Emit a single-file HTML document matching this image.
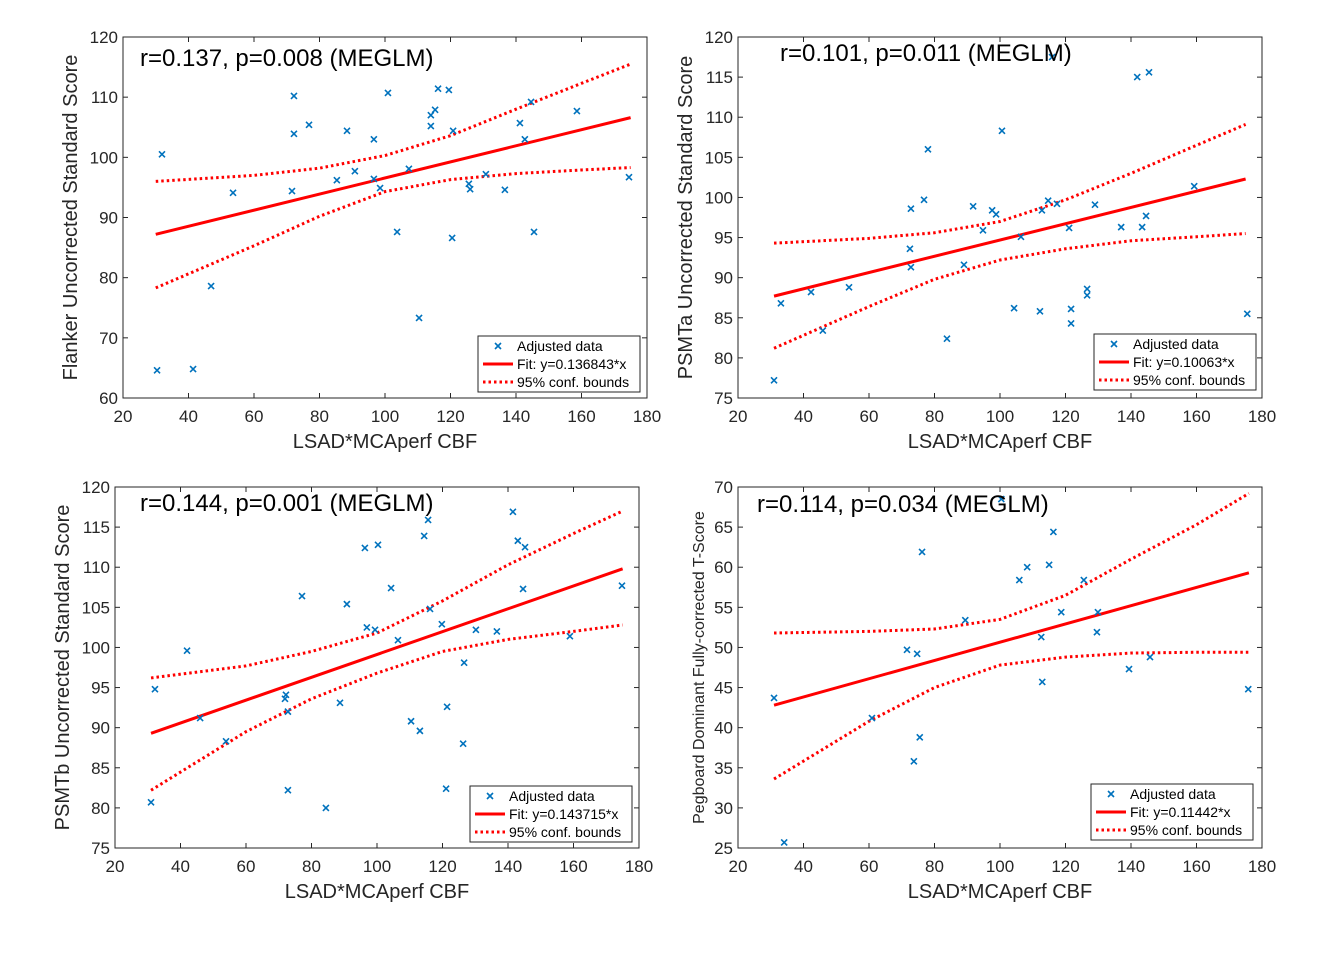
<!DOCTYPE html>
<html><head><meta charset="utf-8"><style>
body{margin:0;background:#fff;}
svg{display:block;font-family:"Liberation Sans",Arial,sans-serif;}
</style></head><body>
<svg id="fig" width="1329" height="956" viewBox="0 0 1329 956" xmlns="http://www.w3.org/2000/svg"></svg>
<script>
// ---- Panel 1: Flanker ----
const p1X=[30.4,31.9,41.4,46.9,53.6,71.6,72.2,72.2,76.8,85.3,88.4,90.8,96.6,96.6,98.5,100.9,103.7,107.3,110.4,114,114,115.3,116.2,119.5,120.8,120.5,125.6,126,130.8,136.6,141.2,142.7,144.6,145.5,158.6,174.5];
const p1Y=[64.6,100.5,64.8,78.6,94.1,94.4,110.2,103.9,105.4,96.2,104.4,97.7,103,96.4,94.9,110.7,87.6,98.1,73.3,107,105.2,107.9,111.4,111.2,104.4,86.6,95.6,94.7,97.2,94.6,105.7,103,109.2,87.6,107.7,96.7];
const p1Fit=[30,87.2,175,106.6];
const p1BX=[30,60,80,100,120,140,160,175];
const p1Up=[96,97,98.2,100.3,103.6,108,112.3,115.5];
const p1Lo=[78.3,85.3,90.2,94.3,96.3,97.3,97.9,98.3];
// ---- Panel 2: PSMTa ----
const p2X=[31,33.1,42.3,45.9,53.9,72.8,72.5,72.8,76.8,78,83.8,89,91.8,94.8,97.6,98.8,100.6,104.3,106.4,112.2,112.8,114.7,117.4,115.9,121.1,121.7,121.7,126.6,126.6,129,137,141.9,143.4,144.6,145.5,159.3,175.5];
const p2Y=[77.2,86.8,88.2,83.4,88.8,91.3,93.6,98.6,99.7,106,82.4,91.6,98.9,95.9,98.4,97.9,108.3,86.2,95.1,85.8,98.4,99.6,99.2,117.5,96.2,86.1,84.3,88.6,87.8,99.1,96.3,115,96.3,97.7,115.6,101.4,85.5];
const p2Fit=[31,87.7,175,102.3];
const p2BX=[31,60,80,100,120,140,160,175];
const p2Up=[94.3,94.9,95.6,97,99.7,103,106.5,109.1];
const p2Lo=[81.2,86.4,89.8,92.2,93.6,94.6,95.1,95.5];
// ---- Panel 3: PSMTb ----
const p3X=[31,32.2,42,46,53.9,72.2,71.9,72.8,72.8,77.1,84.4,88.7,90.8,96.3,96.9,99.4,100.3,104.3,106.4,110.4,113.1,114.4,115.6,116.2,119.8,121.4,121.1,126.3,126.6,130.2,136.6,141.5,143,145.2,144.6,158.9,174.8];
const p3Y=[80.7,94.8,99.6,91.2,88.3,94.1,93.6,92,82.2,106.4,80,93.1,105.4,112.4,102.5,102.2,112.8,107.4,100.9,90.8,89.6,113.9,115.9,104.8,102.9,92.6,82.4,88,98.1,102.2,102,116.9,113.3,112.5,107.3,101.4,107.7];
const p3Fit=[31,89.3,175,109.8];
const p3BX=[31,60,80,100,120,140,160,175];
const p3Up=[96.2,97.7,99.5,101.8,105.8,110.3,114.2,117];
const p3Lo=[82.2,89.5,93.6,96.8,99.5,101,102,102.8];
// ---- Panel 4: Pegboard ----
const p4X=[31,34.1,60.9,71.6,74.7,75.5,73.7,76.2,89.4,100.4,105.9,108.3,115,116.3,118.7,112.6,112.9,125.6,129.9,129.6,139.4,145.8,175.8];
const p4Y=[43.7,25.7,41.2,49.7,49.2,38.8,35.8,61.9,53.4,68.5,58.4,60,60.3,64.4,54.4,51.3,45.7,58.4,54.4,51.9,47.3,48.8,44.8];
const p4Fit=[31,42.8,176,59.3];
const p4BX=[31,60,80,100,120,140,160,176];
const p4Up=[51.8,52,52.3,53.5,56.5,61,65.3,69.2];
const p4Lo=[33.6,40.8,45,47.8,48.8,49.3,49.4,49.4];

const xTicks=[20,40,60,80,100,120,140,160,180];
const panels=[
 {n:'flanker',L:123,R:647,T:37,B:398,ymin:60,ymax:120,yt:[60,70,80,90,100,110,120],X:p1X,Y:p1Y,fit:p1Fit,bx:p1BX,up:p1Up,lo:p1Lo,
  title:'r=0.137, p=0.008 (MEGLM)',tx:140,ty:66,ylab:'Flanker Uncorrected Standard Score',ylx:77,yfs:20,fitlab:'Fit: y=0.136843*x',lg:[478,336]},
 {n:'psmta',L:738,R:1262,T:37,B:398,ymin:75,ymax:120,yt:[75,80,85,90,95,100,105,110,115,120],X:p2X,Y:p2Y,fit:p2Fit,bx:p2BX,up:p2Up,lo:p2Lo,
  title:'r=0.101, p=0.011 (MEGLM)',tx:780,ty:61,ylab:'PSMTa Uncorrected Standard Score',ylx:692,yfs:20,fitlab:'Fit: y=0.10063*x',lg:[1094,334]},
 {n:'psmtb',L:115,R:639,T:487,B:848,ymin:75,ymax:120,yt:[75,80,85,90,95,100,105,110,115,120],X:p3X,Y:p3Y,fit:p3Fit,bx:p3BX,up:p3Up,lo:p3Lo,
  title:'r=0.144, p=0.001 (MEGLM)',tx:140,ty:511,ylab:'PSMTb Uncorrected Standard Score',ylx:69,yfs:20,fitlab:'Fit: y=0.143715*x',lg:[470,786]},
 {n:'pegboard',L:738,R:1262,T:487,B:848,ymin:25,ymax:70,yt:[25,30,35,40,45,50,55,60,65,70],X:p4X,Y:p4Y,fit:p4Fit,bx:p4BX,up:p4Up,lo:p4Lo,
  title:'r=0.114, p=0.034 (MEGLM)',tx:757,ty:512,ylab:'Pegboard Dominant Fully-corrected T-Score',ylx:704,yfs:16,fitlab:'Fit: y=0.11442*x',lg:[1091,784]}
];
const NS='http://www.w3.org/2000/svg';
const svg=document.getElementById('fig');
function mk(tag,attrs,parent,text){const e=document.createElementNS(NS,tag);for(const k in attrs)e.setAttribute(k,attrs[k]);if(text!==undefined)e.textContent=text;parent.appendChild(e);return e;}
const BLUE='#0072bd',RED='#ff0000';
panels.forEach(p=>{
 const g=mk('g',{},svg);
 
 
 const sx=v=>p.L+(v-20)/160*(p.R-p.L);
 const sy=v=>p.B-(v-p.ymin)/(p.ymax-p.ymin)*(p.B-p.T);
 const box=mk('rect',{x:p.L,y:p.T,width:p.R-p.L,height:p.B-p.T,fill:'#fff',stroke:'#262626','stroke-width':1},g);
 
 
 xTicks.forEach(t=>{const x=sx(t);
  mk('line',{x1:x,x2:x,y1:p.B,y2:p.B-5,stroke:'#262626'},g);
  mk('line',{x1:x,x2:x,y1:p.T,y2:p.T+5,stroke:'#262626'},g);
  const tl=mk('text',{x:x,y:p.B+24,'font-size':17,'text-anchor':'middle',fill:'#262626'},g,t);
  
  });
 p.yt.forEach(t=>{const y=sy(t);
  mk('line',{x1:p.L,x2:p.L+5,y1:y,y2:y,stroke:'#262626'},g);
  mk('line',{x1:p.R,x2:p.R-5,y1:y,y2:y,stroke:'#262626'},g);
  const tl=mk('text',{x:p.L-5,y:y+6,'font-size':17,'text-anchor':'end',fill:'#262626'},g,t);
  
  });
 const xl=mk('text',{x:(p.L+p.R)/2,y:p.B+50,'font-size':20,'text-anchor':'middle',fill:'#262626'},g,'LSAD*MCAperf CBF');
 
 
 const cy=(p.T+p.B)/2;
 const yl=mk('text',{x:p.ylx,y:cy,'font-size':p.yfs,'text-anchor':'middle',fill:'#262626',transform:`rotate(-90 ${p.ylx} ${cy})`},g,p.ylab);
 
 
 // bounds
 [p.up,p.lo].forEach((arr,i)=>{
  const pts=p.bx.map((x,j)=>sx(x)+','+sy(arr[j])).join(' ');
  const pl=mk('polyline',{points:pts,fill:'none',stroke:RED,'stroke-width':3,'stroke-dasharray':'2.5,3'},g);
  
  
 });
 const fl=mk('line',{x1:sx(p.fit[0]),y1:sy(p.fit[1]),x2:sx(p.fit[2]),y2:sy(p.fit[3]),stroke:RED,'stroke-width':3},g);
 
 
 p.X.forEach((x,i)=>{const cx=sx(x),cyy=sy(p.Y[i]),s=3;
  const m=mk('path',{d:`M${cx-s},${cyy-s}L${cx+s},${cyy+s}M${cx-s},${cyy+s}L${cx+s},${cyy-s}`,stroke:BLUE,'stroke-width':1.6},g);
  
  });
 const tt=mk('text',{x:p.tx,y:p.ty,'font-size':24,fill:'#000'},g,p.title);
 
 
 // legend
 const [lx,ly]=p.lg;
 const lg=mk('g',{},g);
 
 
 mk('rect',{x:lx,y:ly,width:162,height:56,fill:'#fff',stroke:'#262626','stroke-width':1},lg);
 const mx=lx+20,my=ly+10,s=3;
 mk('path',{d:`M${mx-s},${my-s}L${mx+s},${my+s}M${mx-s},${my+s}L${mx+s},${my-s}`,stroke:BLUE,'stroke-width':1.6},lg);
 mk('line',{x1:lx+5,x2:lx+35,y1:ly+28,y2:ly+28,stroke:RED,'stroke-width':3},lg);
 mk('line',{x1:lx+5,x2:lx+35,y1:ly+46,y2:ly+46,stroke:RED,'stroke-width':3,'stroke-dasharray':'2.5,3'},lg);
 const e1=mk('text',{x:lx+39,y:ly+15,'font-size':14,fill:'#000'},lg,'Adjusted data');
 
 
 const e2=mk('text',{x:lx+39,y:ly+33,'font-size':14,fill:'#000'},lg,p.fitlab);
 
 
 const e3=mk('text',{x:lx+39,y:ly+51,'font-size':14,fill:'#000'},lg,'95% conf. bounds');
 
 
});
</script>
</body></html>
